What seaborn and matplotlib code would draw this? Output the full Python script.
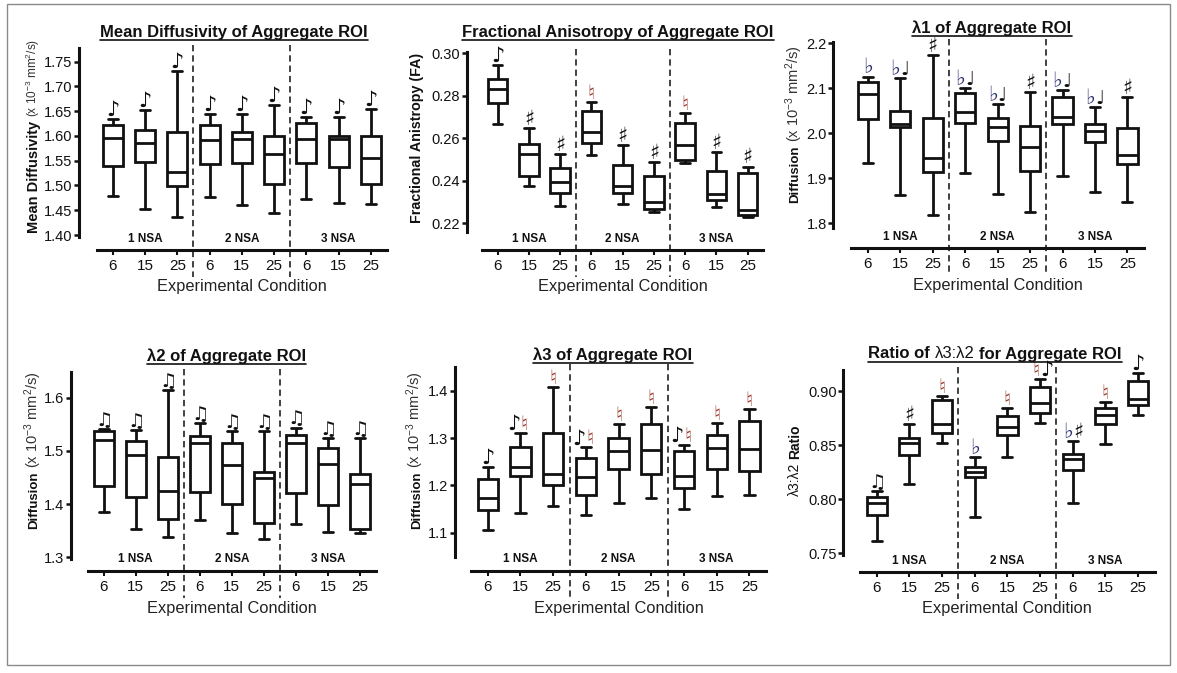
import numpy as np
import pandas as pd
import matplotlib
matplotlib.use("Agg")
import matplotlib.pyplot as plt
import matplotlib.transforms as mtransforms
from matplotlib.lines import Line2D
from matplotlib.patches import Rectangle
from matplotlib.ticker import MultipleLocator, FormatStrFormatter
import seaborn as sns

# ---------------------------------------------------------------------------
# Data: five-number summaries (min, Q1, median, Q3, max) per acquisition
# condition (slice thickness 6/15/25 at 1, 2 and 3 NSA)
# ---------------------------------------------------------------------------
CONDITIONS = ["1-6", "1-15", "1-25", "2-6", "2-15", "2-25", "3-6", "3-15", "3-25"]
SLICE_LABELS = ["6", "15", "25", "6", "15", "25", "6", "15", "25"]
NSA_LABELS = ["1 NSA", "2 NSA", "3 NSA"]

MD_STATS = [
    (1.479, 1.539, 1.595, 1.622, 1.634),
    (1.452, 1.548, 1.586, 1.613, 1.652),
    (1.437, 1.498, 1.527, 1.607, 1.732),
    (1.477, 1.543, 1.592, 1.622, 1.644),
    (1.461, 1.545, 1.593, 1.609, 1.644),
    (1.445, 1.503, 1.563, 1.599, 1.662),
    (1.473, 1.545, 1.594, 1.627, 1.638),
    (1.465, 1.538, 1.594, 1.599, 1.638),
    (1.463, 1.504, 1.555, 1.600, 1.654),
]
FA_STATS = [
    (0.2666, 0.2765, 0.2834, 0.2878, 0.2945),
    (0.2377, 0.2424, 0.2525, 0.2572, 0.2647),
    (0.2282, 0.2341, 0.2393, 0.2459, 0.2525),
    (0.2522, 0.2576, 0.2631, 0.2730, 0.2773),
    (0.2291, 0.2341, 0.2373, 0.2475, 0.2569),
    (0.2252, 0.2266, 0.2299, 0.2423, 0.2490),
    (0.2482, 0.2498, 0.2569, 0.2671, 0.2721),
    (0.2275, 0.2307, 0.2336, 0.2448, 0.2537),
    (0.2231, 0.2239, 0.2263, 0.2435, 0.2467),
]
L1_STATS = [
    (1.933, 2.031, 2.087, 2.113, 2.126),
    (1.863, 2.013, 2.020, 2.050, 2.122),
    (1.819, 1.913, 1.946, 2.035, 2.173),
    (1.911, 2.022, 2.048, 2.089, 2.101),
    (1.864, 1.983, 2.013, 2.033, 2.064),
    (1.826, 1.916, 1.970, 2.016, 2.091),
    (1.905, 2.020, 2.037, 2.081, 2.096),
    (1.870, 1.981, 2.005, 2.020, 2.059),
    (1.848, 1.931, 1.952, 2.011, 2.081),
]
L2_STATS = [
    (1.385, 1.434, 1.520, 1.538, 1.541),
    (1.353, 1.414, 1.493, 1.519, 1.540),
    (1.339, 1.372, 1.425, 1.488, 1.614),
    (1.370, 1.422, 1.514, 1.528, 1.553),
    (1.346, 1.401, 1.473, 1.514, 1.538),
    (1.334, 1.365, 1.450, 1.460, 1.537),
    (1.362, 1.421, 1.514, 1.530, 1.544),
    (1.348, 1.398, 1.475, 1.505, 1.525),
    (1.345, 1.354, 1.438, 1.457, 1.524),
]
L3_STATS = [
    (1.106, 1.148, 1.173, 1.213, 1.238),
    (1.142, 1.220, 1.239, 1.282, 1.310),
    (1.157, 1.201, 1.225, 1.310, 1.408),
    (1.137, 1.180, 1.217, 1.257, 1.280),
    (1.163, 1.235, 1.273, 1.301, 1.330),
    (1.174, 1.224, 1.275, 1.330, 1.365),
    (1.150, 1.195, 1.220, 1.273, 1.285),
    (1.177, 1.235, 1.278, 1.306, 1.331),
    (1.180, 1.231, 1.277, 1.335, 1.361),
]
RATIO_STATS = [
    (0.7614, 0.7854, 0.7962, 0.8017, 0.8076),
    (0.8138, 0.8409, 0.8522, 0.8563, 0.8692),
    (0.8516, 0.8609, 0.8695, 0.8917, 0.8957),
    (0.7839, 0.8202, 0.8255, 0.8301, 0.8393),
    (0.8387, 0.8593, 0.8670, 0.8769, 0.8846),
    (0.8707, 0.8794, 0.8886, 0.9040, 0.9108),
    (0.7962, 0.8270, 0.8372, 0.8415, 0.8538),
    (0.8507, 0.8695, 0.8778, 0.8846, 0.8895),
    (0.8778, 0.8870, 0.8923, 0.9095, 0.9163),
]

# significance marks drawn above each box
MD_MARKS = ["♪"] * 9
FA_MARKS = ["♪", "♯", "♯", "♮", "♯", "♯", "♮", "♯", "♯"]
L1_MARKS = ["♭", "♭♩", "♯", "♭♩", "♭♩", "♯", "♭♩", "♭♩", "♯"]
L2_MARKS = ["♫"] * 9
L3_MARKS = ["♪", "♪♮", "♮", "♪♮", "♮", "♮", "♪♮", "♮", "♮"]
RATIO_MARKS = ["♫", "♯", "♮", "♭", "♮", "♮♪", "♭♯", "♮", "♪"]

GLYPH_COLORS = {"♮": "#9a3b2c", "♭": "#2d3372"}
GLYPH_SIZES = {"♮": 14.5, "♭": 15, "♯": 15, "♪": 15, "♫": 14, "♩": 14}

UNITS = r"(x 10$^{-3}$ mm$^{2}$/s)"

# ---------------------------------------------------------------------------
# Styling
# ---------------------------------------------------------------------------
sns.set_style("ticks")
plt.rcParams["font.family"] = ["Liberation Sans", "DejaVu Sans"]
plt.rcParams["mathtext.fontset"] = "custom"
plt.rcParams["mathtext.rm"] = "Liberation Sans"
plt.rcParams["mathtext.it"] = "Liberation Sans:italic"
plt.rcParams["mathtext.bf"] = "Liberation Sans:bold"

W, H = 1177, 673
fig = plt.figure(figsize=(W / 100, H / 100), dpi=100)
fig.patch.set_facecolor("white")
renderer = fig.canvas.get_renderer()
INK = "#111111"


def fx(px):
    return px / W


def fy(py):
    return 1 - py / H


def long_frame(stats):
    rows = [(c, v) for c, s in zip(CONDITIONS, stats) for v in s]
    return pd.DataFrame(rows, columns=["condition", "value"])


def text_row(xc, baseline, pieces, size, underline=True):
    """Lay out (text, weight) pieces on one baseline, centred at xc (pixels)."""
    gap = 0.28 * size * 100 / 72
    objs, widths = [], []
    for s, weight in pieces:
        t = fig.text(0, 0, s, fontsize=size, fontweight=weight, color=INK,
                     ha="left", va="baseline")
        objs.append(t)
        widths.append(t.get_window_extent(renderer).width)
    total = sum(widths) + gap * (len(pieces) - 1)
    x = xc - total / 2
    x0 = x
    for t, w in zip(objs, widths):
        t.set_position((fx(x), fy(baseline)))
        x += w + gap
    if underline:
        fig.add_artist(Line2D([fx(x0), fx(x0 + total)],
                              [fy(baseline + 3), fy(baseline + 3)],
                              color=INK, lw=1.2, transform=fig.transFigure))


def vertical_label(xc, yc, pieces):
    """Stack rotated (text, size, weight, colour) pieces bottom-to-top."""
    gap = 4
    objs, lengths = [], []
    for s, size, weight, color in pieces:
        t = fig.text(0, 0, s, fontsize=size, fontweight=weight, color=color,
                     rotation=90, rotation_mode="anchor", ha="left", va="baseline")
        objs.append(t)
        lengths.append(t.get_window_extent(renderer).height)
    total = sum(lengths) + gap * (len(pieces) - 1)
    y = yc + total / 2          # pixel from top, bottom end of the label
    for t, ln, (s, size, _, _) in zip(objs, lengths, pieces):
        cap = 0.36 * size * 100 / 72
        t.set_position((fx(xc + cap), fy(y)))
        y -= ln + gap


PANELS = [
    dict(stats=MD_STATS, marks=MD_MARKS, rect=(79, 48.3, 387, 236.7), xmin=-1.05,
         ylim=(1.3966, 1.777), step=0.05, fmt="%.2f", axis_y=250,
         title=[("Mean Diffusivity of Aggregate ROI", "bold")], title_xy=(233.8, 36.5),
         ylabel=[("Mean Diffusivity", 10.5, "bold", INK), (UNITS, 8.5, "normal", "#333333")],
         ylabel_xy=(33, 136)),
    dict(stats=FA_STATS, marks=FA_MARKS, rect=(466.7, 51.7, 763.3, 231.7), xmin=-0.99,
         ylim=(0.2160, 0.3008), step=0.02, fmt="%.2f", axis_y=250,
         title=[("Fractional Anisotropy of Aggregate ROI", "bold")], title_xy=(618, 37),
         ylabel=[("Fractional Anistropy (FA)", 10.3, "bold", INK)],
         ylabel_xy=(415.7, 137.5)),
    dict(stats=L1_STATS, marks=L1_MARKS, rect=(833.3, 41.7, 1143.7, 227.7), xmin=-1.06,
         ylim=(1.790, 2.2036), step=0.1, fmt="%.1f", axis_y=248,
         title=[("λ1 of Aggregate ROI", "bold")], title_xy=(992, 32.7),
         ylabel=[("Diffusion", 9.5, "bold", INK), (UNITS, 10.5, "normal", "#333333")],
         ylabel_xy=(793.5, 124)),
    dict(stats=L2_STATS, marks=L2_MARKS, rect=(71, 371.7, 376, 559), xmin=-1.02,
         ylim=(1.2968, 1.6489), step=0.1, fmt="%.1f", axis_y=571,
         title=[("λ2 of Aggregate ROI", "bold")], title_xy=(226.7, 360.7),
         ylabel=[("Diffusion", 9.5, "bold", INK), (UNITS, 10.5, "normal", "#333333")],
         ylabel_xy=(32.8, 450)),
    dict(stats=L3_STATS, marks=L3_MARKS, rect=(454.7, 367.3, 765.8, 556.7), xmin=-1.01,
         ylim=(1.0493, 1.4494), step=0.1, fmt="%.1f", axis_y=571,
         title=[("λ3 of Aggregate ROI", "bold")], title_xy=(613, 360),
         ylabel=[("Diffusion", 9.5, "bold", INK), (UNITS, 10.5, "normal", "#333333")],
         ylabel_xy=(415, 450)),
    dict(stats=RATIO_STATS, marks=RATIO_MARKS, rect=(843.3, 370, 1154.5, 555), xmin=-1.02,
         ylim=(0.7485, 0.9194), step=0.05, fmt="%.2f", axis_y=572,
         title=[("Ratio of", "bold"), ("λ3:λ2", "normal"), ("for Aggregate ROI", "bold")],
         title_xy=(995, 358.5),
         ylabel=[("λ3:λ2", 10, "normal", INK), ("Ratio", 10, "bold", INK)],
         ylabel_xy=(794.3, 460)),
]

for p in PANELS:
    left, top, right, bottom = p["rect"]
    ax = fig.add_axes([fx(left), fy(bottom), (right - left) / W, (bottom - top) / H])
    df = long_frame(p["stats"])
    sns.boxplot(data=df, x="condition", y="value", order=CONDITIONS, whis=(0, 100),
                width=0.62, color="white", linecolor=INK, linewidth=2.0,
                fliersize=0, ax=ax)
    ax.set_xlim(p["xmin"], 8.5)
    ax.set_ylim(*p["ylim"])
    ax.set_xlabel("")
    ax.set_ylabel("")
    ax.set_facecolor("none")

    for side in ("top", "right"):
        ax.spines[side].set_visible(False)
    ax.spines["left"].set_linewidth(2.2)
    ax.spines["left"].set_color(INK)
    ax.spines["bottom"].set_linewidth(2.2)
    ax.spines["bottom"].set_color(INK)
    ax.spines["bottom"].set_position(("outward", (p["axis_y"] - bottom) * 0.72))
    ax.spines["bottom"].set_bounds(-0.5, 8.5)

    ax.yaxis.set_major_locator(MultipleLocator(p["step"]))
    ax.yaxis.set_major_formatter(FormatStrFormatter(p["fmt"]))
    ax.set_xticks(range(len(CONDITIONS)))
    ax.set_xticklabels(SLICE_LABELS)
    ax.tick_params(axis="y", direction="out", length=3.5, width=1.8, pad=1.2,
                   labelsize=10.5, colors=INK)
    ax.tick_params(axis="x", direction="out", length=3.5, width=1.5, pad=3,
                   labelsize=11, colors=INK)

    blend = mtransforms.blended_transform_factory(ax.transData, fig.transFigure)
    # dashed separators between NSA groups
    for xs in (2.5, 5.5):
        ax.add_artist(Line2D([xs, xs], [fy(top - 3), fy(p["axis_y"] + 27)],
                             transform=blend, color="#333333", lw=1.3,
                             dashes=(3.5, 2.2), clip_on=False))
    # group labels
    for xg, lab in zip((1, 4, 7), NSA_LABELS):
        ax.text(xg, fy(p["axis_y"] - 11.5), lab, transform=blend, ha="center",
                va="center", fontsize=8.5, fontweight="bold", color=INK)
    ax.text(4, fy(p["axis_y"] + 37), "Experimental Condition", transform=blend,
            ha="center", va="center", fontsize=11.8, color="#222222")

    # significance marks above the upper whiskers
    for i, (mark, s) in enumerate(zip(p["marks"], p["stats"])):
        glyphs = list(mark)
        aligns = ["center"] if len(glyphs) == 1 else ["right", "left"]
        for g, ha in zip(glyphs, aligns):
            ax.annotate(g, (i, s[4]), xytext=(0, 2.2), textcoords="offset points",
                        ha=ha, va="baseline", fontsize=GLYPH_SIZES.get(g, 14),
                        family="DejaVu Sans", color=GLYPH_COLORS.get(g, INK),
                        annotation_clip=False)

    text_row(p["title_xy"][0], p["title_xy"][1], p["title"], 12)
    vertical_label(p["ylabel_xy"][0], p["ylabel_xy"][1], p["ylabel"])

# frame around the whole figure
fig.add_artist(Rectangle((fx(7), fy(665)), fx(1170) - fx(7), fy(4) - fy(665),
                         transform=fig.transFigure, fill=False, ec="#8a8a8a", lw=1))

fig.savefig("out.png", dpi=100, facecolor="white")
